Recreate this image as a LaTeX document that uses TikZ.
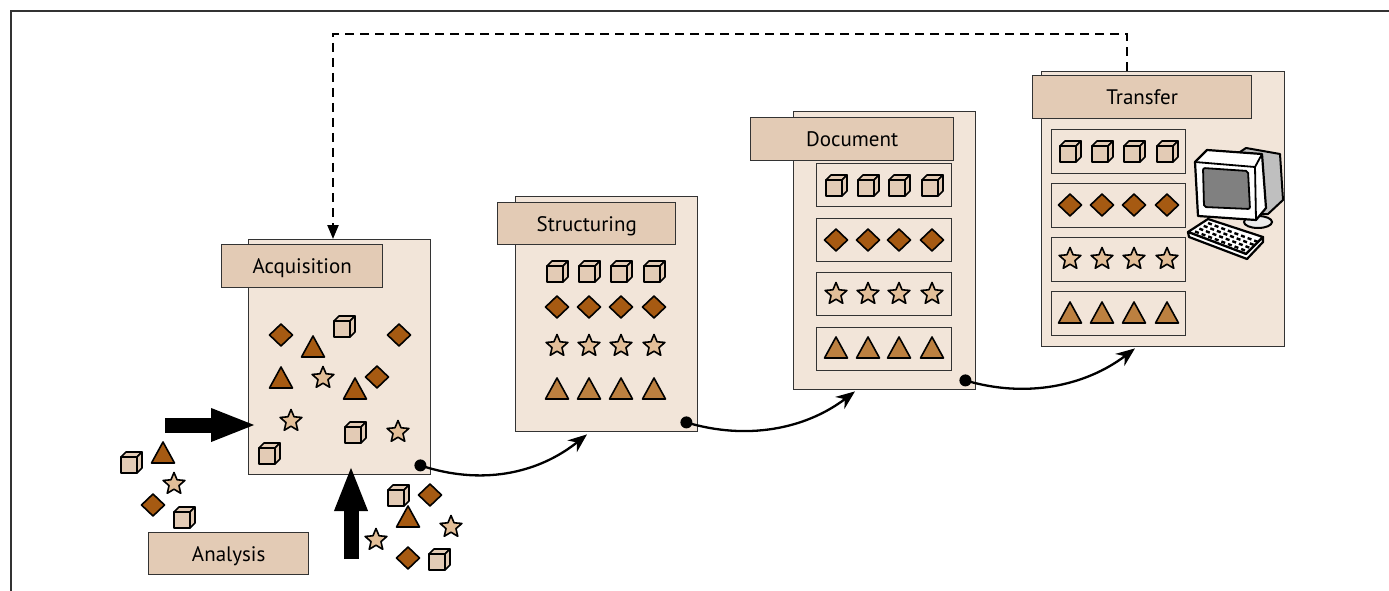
\documentclass[tikz,border=0pt]{standalone}
\usepackage{fontspec}
\setmainfont{PT Sans}
\usetikzlibrary{arrows.meta,calc}

\definecolor{sheetbg}{HTML}{F2E5D9}
\definecolor{tabbg}{HTML}{E3CBB5}
\definecolor{rust}{HTML}{A65A12}
\definecolor{ochre}{HTML}{BC8040}
\definecolor{sand}{HTML}{E2BE98}
\definecolor{edgec}{HTML}{333333}

\tikzset{
  sheet/.style={draw=edgec, line width=1.4pt, fill=sheetbg, inner sep=0pt, anchor=north west},
  tab/.style={draw=edgec, line width=1.4pt, fill=tabbg, inner sep=0pt, anchor=north west,
    text height=15pt, text depth=0pt, font=\fontsize{21}{25}\selectfont},
  tray/.style={draw=edgec, line width=1.4pt, fill=sheetbg, inner sep=0pt, anchor=north west},
  item/.style={draw=black, line width=1.6pt, line join=round},
  flow/.style={line width=2.3pt, -{Stealth[length=19pt,width=15pt]}},
  back/.style={line width=2.3pt, dash pattern=on 9pt off 6pt, -{Triangle[length=14pt,width=11pt]}},
  push/.style={line width=15pt, -{Triangle[length=46pt,width=30pt]}},
  pics/cube/.style={code={
    \draw[item, fill=tabbg] (-10,-5) rectangle (6,11);
    \draw[item, fill=tabbg] (-10,-5) -- (-5,-10) -- (11,-10) -- (6,-5) -- cycle;
    \draw[item, fill=tabbg] (6,-5) -- (11,-10) -- (11,6) -- (6,11) -- cycle;
  }},
  pics/diamond/.style={code={
    \draw[item, fill=rust] (0,-11) -- (11.5,0) -- (0,11) -- (-11.5,0) -- cycle;
  }},
  pics/star/.style={code={
    \draw[item, fill=sand] plot[variable=\t, samples at={0,...,9}]
      ({-90+36*\t}:{11.5-6.3*mod(\t,2)}) -- cycle;
  }},
  pics/tri/.default=ochre,
  pics/tri/.style={code={
    \draw[item, fill=#1] (-11.5,10) -- (0,-11) -- (11.5,10) -- cycle;
  }},
}

\begin{document}
\begin{tikzpicture}[x=1pt,y=-1pt]
\useasboundingbox (0,0) rectangle (1389,591);
\draw[edgec, line width=1.5pt] (11,591) -- (11,11) -- (1389,11);

% sheets and their tabs
\node[sheet, minimum width=182pt, minimum height=235pt] (acq) at (248,239) {};
\node[sheet, minimum width=182pt, minimum height=235pt] (struc) at (515,196) {};
\node[sheet, minimum width=182pt, minimum height=278pt] (doc) at (793,111) {};
\node[sheet, minimum width=243pt, minimum height=275pt] (trans) at (1041,71) {};
\node[tab, minimum width=161pt, minimum height=43pt] (acqtab) at (221,244) {Acquisition};
\node[tab, minimum width=178pt, minimum height=42pt] (structab) at (497,202) {Structuring};
\node[tab, minimum width=203pt, minimum height=43pt] (doctab) at (750,117) {Document};
\node[tab, minimum width=219pt, minimum height=43pt] (transtab) at (1032,75) {Transfer};
\node[tab, minimum width=160pt, minimum height=42pt] (anatab) at (148,532) {Analysis};

% trays
\foreach \y [count=\i] in {163,218,272,327}
  \node[tray, minimum width=135pt, minimum height=43pt] (docrow\i) at (816,\y) {};
\foreach \y [count=\i] in {129,183,237,291}
  \node[tray, minimum width=134pt, minimum height=44pt] (transrow\i) at (1051,\y) {};

% sorted items
\foreach \x in {557,589,621,654} {
  \pic at (\x,271) {cube};
  \pic at (\x,307) {diamond};
  \pic at (\x,346) {star};
  \pic at (\x,389) {tri};
}
\foreach \x in {836,868,899,932} {
  \pic at (\x,185) {cube};
  \pic at (\x,240) {diamond};
  \pic at (\x,294) {star};
  \pic at (\x,348) {tri};
}
\foreach \x in {1070,1102,1134,1167} {
  \pic at (\x,151) {cube};
  \pic at (\x,205) {diamond};
  \pic at (\x,259) {star};
  \pic at (\x,313) {tri};
}

% loose items
\pic at (281,335) {diamond};
\pic at (313,347) {tri=rust};
\pic at (344,326) {cube};
\pic at (399,335) {diamond};
\pic at (281,378) {tri=rust};
\pic at (323,378) {star};
\pic at (355,389) {tri=rust};
\pic at (377,377) {diamond};
\pic at (291,421) {star};
\pic at (355,432) {cube};
\pic at (398,432) {star};
\pic at (269,453) {cube};
\pic at (131,462) {cube};
\pic at (163,453) {tri=rust};
\pic at (174,484) {star};
\pic at (153,505) {diamond};
\pic at (184,517) {cube};
\pic at (398,495) {cube};
\pic at (430,495) {diamond};
\pic at (408,517) {tri=rust};
\pic at (451,527) {star};
\pic at (376,540) {star};
\pic at (408,558) {diamond};
\pic at (439,559) {cube};

% computer: housing, stand, bezel, screen, keyboard
\draw[line width=2pt, fill=black!25, line join=round] (1240,152) -- (1246,148) -- (1280,154)
  -- (1283,200) -- (1268,214) -- (1258,214) -- cycle;
\draw[line width=2pt, fill=black!8] (1258,222) ellipse (14pt and 6pt);
\draw[line width=2.2pt, fill=white, line join=round] (1195,162) -- (1207,150) -- (1262,154)
  -- (1266,208) -- (1256,220) -- (1198,216) -- cycle;
\draw[line width=1.8pt, line join=round] (1195,162) -- (1255,167) -- (1262,154) (1255,167) -- (1256,220);
\draw[line width=1.8pt, fill=black!50, rounded corners=2pt] (1203,168) -- (1248,171) -- (1250,209)
  -- (1204,207) -- cycle;
\draw[line width=2.2pt, fill=white, line join=round] (1188,232) -- (1208,219) -- (1263,237)
  -- (1246,254) -- cycle;
\draw[line width=2.2pt, fill=white, line join=round] (1188,232) -- (1189,237) -- (1247,259)
  -- (1263,242) -- (1263,237) -- (1246,254) -- cycle;
\foreach \r in {0,...,3}
  \foreach \c in {0,...,7}
    \draw[line width=2.4pt] ($(1188,232)+({(\c+0.6)/8.8*58+(\r+0.7)/4.6*20},{(\c+0.6)/8.8*22-(\r+0.7)/4.6*13})$)
      -- ++(3.8,1.4);

% flow between sheets
\coordinate (acqdot) at ($(acq.south east)+(-11,-10)$);
\coordinate (strucdot) at ($(struc.south east)+(-12,-10)$);
\coordinate (docdot) at ($(doc.south east)+(-11,-10)$);
\coordinate (strucin) at ($(struc.south west)+(72,2)$);
\coordinate (docin) at ($(doc.south west)+(62,1)$);
\coordinate (transin) at ($(trans.south west)+(94,1)$);
\fill (acqdot) circle (6pt) (strucdot) circle (6pt) (docdot) circle (6pt);
\draw[flow] (acqdot) .. controls +(60,20) and +(-50,40) .. (strucin);
\draw[flow] (strucdot) .. controls +(60,18) and +(-50,38) .. (docin);
\draw[flow] (docdot) .. controls +(60,18) and +(-50,38) .. (transin);

% feedback loop
\coordinate (retr) at (1127,34);
\coordinate (retl) at (333,34);
\draw[back] (retr |- trans.north) -- (retr) -- (retl) -- (retl |- acq.north);

% input arrows
\coordinate (sidein) at (165,425);
\coordinate (bottomin) at (351,559);
\draw[push] (sidein) -- (257,425);
\draw[push] (bottomin) -- (351,465);
\end{tikzpicture}
\end{document}
